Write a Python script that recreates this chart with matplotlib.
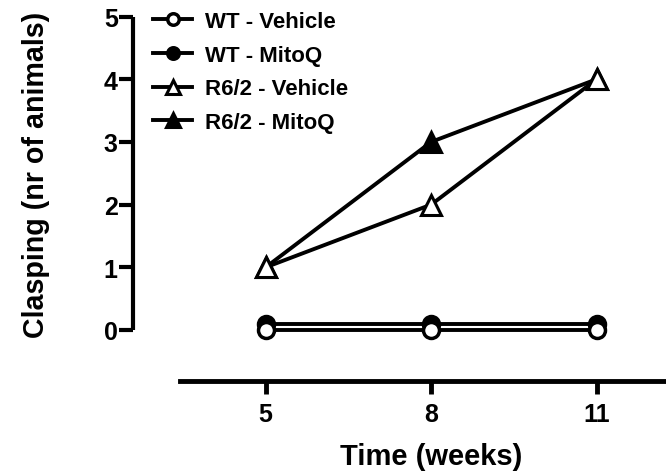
import matplotlib
matplotlib.use("Agg")
import matplotlib.pyplot as plt

plt.rcParams['font.family'] = ['Liberation Sans', 'DejaVu Sans']
plt.rcParams['font.weight'] = 'bold'

weeks = [5, 8, 11]
wt_vehicle = [0, 0, 0]
wt_mitoq = [0.1, 0.1, 0.1]
r62_vehicle = [1, 2, 4]
r62_mitoq = [1, 3, 4]
series_labels = ["WT - Vehicle", "WT - MitoQ", "R6/2 - Vehicle", "R6/2 - MitoQ"]
xticks = [5, 8, 11]
yticks = [0, 1, 2, 3, 4, 5]

W, H = 666, 477
fig = plt.figure(figsize=(W / 100, H / 100), dpi=100)
left_px, bottom_px = 133, 382
ax = fig.add_axes([left_px / W, (H - bottom_px) / H, 1 - left_px / W, bottom_px / H])

lw = 2.8
h_wtm, = ax.plot(weeks, wt_mitoq, color='black', lw=lw, marker='o', ms=11.5,
                 mfc='black', mec='black', mew=2.5, zorder=3, clip_on=False)
h_wtv, = ax.plot(weeks, wt_vehicle, color='black', lw=lw, marker='o', ms=11.5,
                 mfc='white', mec='black', mew=2.5, zorder=4, clip_on=False)
h_rm, = ax.plot(weeks, r62_mitoq, color='black', lw=lw, marker='^', ms=14,
                mfc='black', mec='black', mew=2.2, zorder=5, clip_on=False)
h_rv, = ax.plot(weeks, r62_vehicle, color='black', lw=lw, marker='^', ms=14,
                mfc='white', mec='black', mew=2.2, zorder=6, clip_on=False)

px_per_week = (596.7 - 265.7) / 6
xmin = 5 - (265.7 - left_px) / px_per_week
xmax = 11 + (W - 596.7) / px_per_week
px_per_unit = 62.7
ymin = -(bottom_px - 331) / px_per_unit
ymax = 331 / px_per_unit
ax.set_xlim(xmin, xmax)
ax.set_ylim(ymin, ymax)

for s in ['top', 'right']:
    ax.spines[s].set_visible(False)
ax.spines['left'].set_linewidth(3.0)
ax.spines['left'].set_bounds(0, 5)
ax.spines['bottom'].set_linewidth(3.5)
ax.spines['bottom'].set_bounds(5 - (265.7 - 180) / px_per_week, xmax)
ax.spines['left'].set_capstyle('butt')

ax.set_xticks(xticks)
ax.set_yticks(yticks)
ax.set_xticklabels([str(t) for t in xticks])
ax.set_yticklabels([str(t) for t in yticks])
ax.tick_params(axis='y', length=10, width=3, labelsize=18, pad=1, direction='out')
ax.tick_params(axis='x', length=9, width=3.5, labelsize=18, pad=6, direction='out')
for lab in ax.get_xticklabels() + ax.get_yticklabels():
    lab.set_fontweight('bold')

ax.set_ylabel("Clasping (nr of animals)", fontsize=20.6, fontweight='bold')
ax.yaxis.set_label_coords((50 - left_px) / (W - left_px), (bottom_px - 175) / bottom_px)
ax.set_xlabel("Time (weeks)", fontsize=21, fontweight='bold')
ax.xaxis.set_label_coords((431 - left_px) / (W - left_px), (bottom_px - 443) / bottom_px)
ax.xaxis.label.set_va('top')

leg = fig.legend([h_wtv, h_wtm, h_rv, h_rm], series_labels,
                 loc='upper left', bbox_to_anchor=(153 / W, 1 - 12 / H),
                 frameon=False, markerscale=0.72,
                 handlelength=1.76, handletextpad=0.6, labelspacing=0.57,
                 borderpad=0, borderaxespad=0, prop={'weight': 'bold', 'size': 16})

fig.savefig("out.png", dpi=100)
